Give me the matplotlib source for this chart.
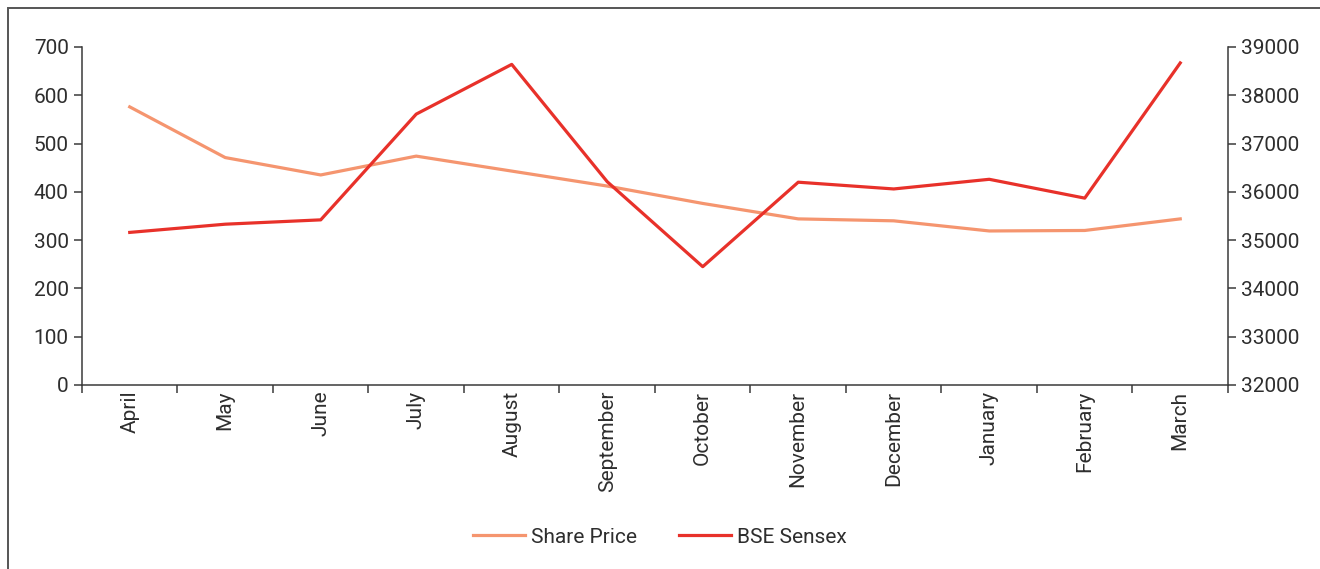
"""
Share price vs BSE Sensex, monthly closing values over the financial year.
"""

import matplotlib
matplotlib.use("Agg")
import matplotlib.pyplot as plt
from matplotlib.patches import Rectangle

months = ['April', 'May', 'June', 'July', 'August', 'September',
          'October', 'November', 'December', 'January', 'February', 'March']
share_price = [576, 471, 435, 474, 443, 412, 376, 344, 340, 319, 320, 344]
bse_sensex = [35160, 35330, 35420, 37610, 38640, 36210,
              34450, 36200, 36060, 36260, 35870, 38670]

left_ticks = [0, 100, 200, 300, 400, 500, 600, 700]
right_ticks = [32000, 33000, 34000, 35000, 36000, 37000, 38000, 39000]

plt.rcParams['font.family'] = ['Roboto', 'DejaVu Sans']

SHARE_COLOR = '#F5956F'
SENSEX_COLOR = '#E8312A'
AXIS_COLOR = '#3a3a3a'
TEXT_COLOR = '#2e2e2e'


def style_axis(ax):
    for side in ax.spines:
        ax.spines[side].set_color(AXIS_COLOR)
        ax.spines[side].set_linewidth(1.1)
    ax.tick_params(colors=AXIS_COLOR, labelcolor=TEXT_COLOR, labelsize=15,
                   width=1.1, length=6)


def main():
    fig = plt.figure(figsize=(13.2, 5.69), dpi=100)
    ax = fig.add_axes([0.0621, 0.3234, 0.8682, 0.594])
    ax2 = ax.twinx()

    x = range(len(months))
    l1, = ax.plot(x, share_price, color=SHARE_COLOR, linewidth=2.3,
                  label='Share Price', zorder=3)
    l2, = ax2.plot(x, bse_sensex, color=SENSEX_COLOR, linewidth=2.3,
                   label='BSE Sensex', zorder=3)

    # left axis
    ax.set_xlim(-0.5, len(months) - 0.5)
    ax.set_ylim(0, 700)
    ax.set_yticks(left_ticks)
    ax.set_xticks(list(x))
    ax.set_xticklabels(months, rotation=90)
    ax.set_xticks([i - 0.5 for i in range(len(months) + 1)], minor=True)
    style_axis(ax)
    ax.tick_params(axis='x', which='major', length=0, pad=4)
    ax.tick_params(axis='x', which='minor', length=6, width=1.1,
                   color=AXIS_COLOR, direction='out')
    ax.spines['top'].set_visible(False)
    ax.spines['right'].set_visible(False)

    # right axis
    ax2.set_ylim(32000, 39000)
    ax2.set_yticks(right_ticks)
    style_axis(ax2)
    ax2.spines['top'].set_visible(False)
    ax2.spines['left'].set_visible(False)
    ax2.spines['bottom'].set_visible(False)

    fig.legend(handles=[l1, l2], loc='center', bbox_to_anchor=(0.5, 0.056),
               ncol=2, frameon=False, fontsize=15, handlelength=2.5,
               handletextpad=0.3, columnspacing=2.0, labelcolor=TEXT_COLOR)

    # outer frame (cut off on the right and bottom)
    fig.add_artist(Rectangle((8 / 1320, -0.05), 1.2, 1 - 8 / 569 + 0.05,
                             transform=fig.transFigure, fill=False,
                             edgecolor='#555555', linewidth=1.4))

    fig.savefig('out.png', dpi=100)


if __name__ == "__main__":
    main()
